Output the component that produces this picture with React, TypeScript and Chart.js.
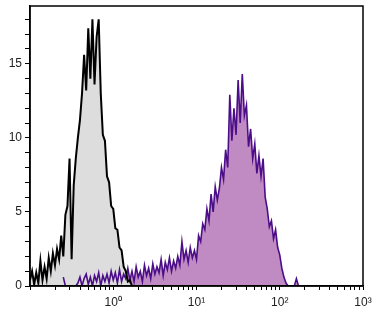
import React, { useEffect, useRef } from "react";
import { Chart, registerables } from "chart.js";

Chart.register(...registerables);

// Histogram bins: 40 bins per decade starting at 10^-1
const BINS_PER_DECADE = 40;
const X_MIN = 0.1;
const X_MAX = 1000;
const Y_MIN = 0;
const Y_MAX = 18.9;

// Unstained / isotype control (grey)
const controlStartBin = 0;
const controlCounts = [
  0.4, 1.0, 0.1, 0.9, 0.2, 1.7, 0.4, 1.3, 0.5, 1.9,
  1.0, 2.2, 1.4, 2.5, 1.8, 3.4, 2.0, 4.8, 5.4, 8.6,
  1.8, 6.8, 8.6, 10.0, 11.2, 13.0, 15.6, 13.2, 17.4, 14.0,
  18.0, 13.6, 16.8, 18.0, 13.0, 10.2, 9.8, 7.4, 7.0, 5.4,
  5.2, 3.9, 3.8, 2.6, 2.4, 1.3, 1.0, 0.3, 0.4, 0,
];

// Stained sample (purple)
const stainedStartBin = 16;
const stainedCounts = [
  0.6, 0, 0, 0, 0, 0, 0, 0.2, 0.6, 0,
  0.5, 0.8, 0.1, 0.6, 0, 0.7, 0.3, 0.9, 0, 0.7,
  0.3, 0.8, 0.2, 1.0, 0.4, 0.9, 0.2, 1.1, 0.3, 0.8,
  0.5, 1.2, 0.4, 1.0, 0.3, 1.3, 0.6, 1.0, 0.3, 1.4,
  0.7, 1.2, 0.5, 1.5, 0.8, 1.3, 0.9, 1.8, 0.7, 1.6,
  1.1, 1.9, 1.0, 1.7, 1.2, 2.0, 1.4, 3.0, 1.8, 2.4,
  1.6, 2.6, 1.9, 2.4, 1.8, 3.4, 3.0, 4.2, 3.8, 5.2,
  4.4, 6.2, 5.0, 6.7, 5.8, 6.6, 8.0, 7.2, 9.2, 8.0,
  12.9, 9.8, 12.0, 10.2, 13.9, 11.0, 14.3, 11.5, 12.2, 9.4,
  10.6, 8.6, 9.6, 7.6, 8.8, 7.4, 8.6, 6.0, 5.2, 4.0,
  4.4, 3.2, 3.8, 2.6, 2.1, 1.2, 0.6, 0.2, 0, 0,
  0, 0, 0.5, 0,
];

const yMajorLabels = [0, 5, 10, 15];
const yTickValues = [0, 1, 2, 3, 4, 5, 6, 7, 8, 9, 10, 11, 12, 13, 14, 15, 16, 17, 18];
const xDecadeValues = [1, 10, 100, 1000];
const xDecadeLabels = ["10\u2070", "10\u00B9", "10\u00B2", "10\u00B3"];
const xMinorMultipliers = [1, 2, 3, 4, 5, 6, 7, 8, 9];
const xDecadeStarts = [0.1, 1, 10, 100];

function toPoints(start: number, counts: number[]) {
  return counts.map((c, i) => ({
    x: X_MIN * Math.pow(10, (start + i) / BINS_PER_DECADE),
    y: c,
  }));
}

const framePlugin = {
  id: "frame",
  afterDraw(chart: any) {
    const { ctx, chartArea } = chart;
    ctx.save();
    ctx.strokeStyle = "#000";
    ctx.lineWidth = 1.5;
    ctx.strokeRect(chartArea.left, chartArea.top, chartArea.right - chartArea.left, chartArea.bottom - chartArea.top);
    ctx.restore();
  },
};

export default function App() {
  const ref = useRef<HTMLCanvasElement | null>(null);

  useEffect(() => {
    if (!ref.current) return;
    const xTicks: { value: number }[] = [];
    xDecadeStarts.forEach((d) => xMinorMultipliers.forEach((m) => xTicks.push({ value: d * m })));
    xTicks.push({ value: 1000 });

    const chart = new Chart(ref.current, {
      type: "line",
      data: {
        datasets: [
          {
            label: "Control",
            data: toPoints(controlStartBin, controlCounts),
            borderColor: "#000000",
            backgroundColor: "#dddddd",
            borderWidth: 2,
            fill: "origin",
            pointRadius: 0,
            tension: 0,
          },
          {
            label: "Stained",
            data: toPoints(stainedStartBin, stainedCounts),
            borderColor: "#4c0e88",
            backgroundColor: "#c08bc3",
            borderWidth: 1.6,
            fill: "origin",
            pointRadius: 0,
            tension: 0,
          },
        ],
      },
      options: {
        animation: false,
        responsive: false,
        parsing: false as any,
        layout: { padding: { left: 0, top: 6, right: 19, bottom: 0 } },
        plugins: {
          legend: { display: false },
          tooltip: { enabled: false },
          filler: { drawTime: "beforeDatasetsDraw" } as any,
        },
        scales: {
          x: {
            type: "logarithmic",
            min: X_MIN,
            max: X_MAX,
            afterBuildTicks: (scale: any) => {
              scale.ticks = xTicks.map((t) => ({ ...t }));
            },
            afterFit: (scale: any) => {
              scale.height = 37;
              scale.paddingLeft = 0;
              scale.paddingRight = 0;
            },
            grid: { display: true, drawOnChartArea: false, drawTicks: true, tickLength: 4, tickColor: "#000", tickWidth: 1 },
            border: { display: true, color: "#000", width: 1.5, z: 1 } as any,
            ticks: {
              autoSkip: false,
              maxRotation: 0,
              padding: 5,
              color: "#222",
              font: { family: "Liberation Sans, Arial, sans-serif", size: 12 },
              callback: (value: any) => {
                const idx = xDecadeValues.findIndex((v) => Math.abs(v - Number(value)) < 1e-9 * v);
                return idx >= 0 ? xDecadeLabels[idx] : "";
              },
            },
          },
          y: {
            type: "linear",
            min: Y_MIN,
            max: Y_MAX,
            afterBuildTicks: (scale: any) => {
              scale.ticks = yTickValues.map((v) => ({ value: v }));
            },
            afterFit: (scale: any) => {
              scale.width = 30;
              scale.paddingTop = 0;
              scale.paddingBottom = 0;
            },
            grid: { display: true, drawOnChartArea: false, drawTicks: true, tickLength: 5, tickColor: "#000", tickWidth: 1 },
            border: { display: true, color: "#000", width: 1.5, z: 1 } as any,
            ticks: {
              autoSkip: false,
              padding: 3,
              color: "#222",
              font: { family: "Liberation Sans, Arial, sans-serif", size: 12 },
              callback: (value: any) => (yMajorLabels.includes(Number(value)) ? String(value) : ""),
            },
          },
        },
      },
      plugins: [framePlugin],
    });
    return () => chart.destroy();
  }, []);

  return (
    <div style={{ position: "fixed", left: 0, top: 0, width: 382, height: 323, background: "#fff" }}>
      <canvas ref={ref} width={382} height={323} style={{ width: 382, height: 323, display: "block" }} />
    </div>
  );
}
